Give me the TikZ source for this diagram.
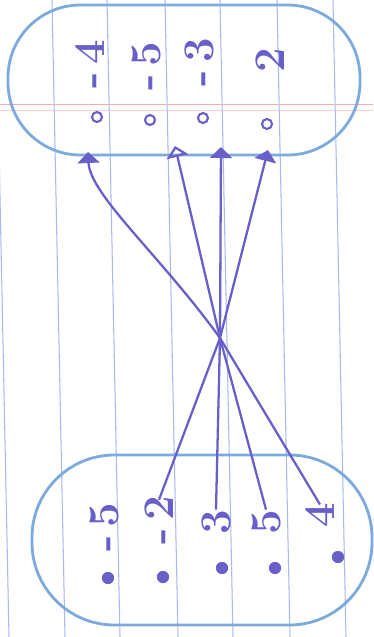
\documentclass[tikz,border=0pt]{standalone}
\usepackage{amsmath}
\usepackage{tikz}
\usetikzlibrary{arrows.meta, positioning, calc}
\definecolor{penblue}{RGB}{105,95,200}
\definecolor{ovalblue}{RGB}{125,170,220}
\definecolor{ruleblue}{RGB}{170,185,240}
\definecolor{marginred}{RGB}{235,175,180}
\tikzset{
  setoval/.style={draw=ovalblue,line width=1.6pt,rounded corners=1.45cm},
  hollowpt/.style={circle,draw=penblue,line width=1.2pt,fill=white,inner sep=0pt,minimum size=0.2cm},
  solidpt/.style={circle,draw=penblue,fill=penblue,inner sep=0pt,minimum size=0.23cm},
  numlbl/.style={rotate=90,text=penblue,font=\Huge\bfseries,inner sep=1pt},
  maparr/.style={-{Triangle[width=0.44cm,length=0.22cm]},line width=1.3pt,color=penblue},
  openarr/.style={-{Triangle[open,width=0.44cm,length=0.22cm]},line width=1.3pt,color=penblue},
  ruling/.style={draw=ruleblue,line width=0.6pt}
}

\begin{document}
\begin{tikzpicture}[x=0.02cm,y=-0.02cm]
  \useasboundingbox (0,0) rectangle (373,637);

  %% paper rulings
  \foreach \xa in {-4,52,107,165,220,277,333}
    \draw[ruling] (\xa,0) -- ($(\xa,637)+(13,0)$);
  \draw[marginred,line width=0.5pt] (0,104) -- (373,104);
  \draw[marginred!60,line width=0.4pt] (0,110) -- (373,110);

  %% codomain (top)
  \draw[setoval] (8,5) rectangle (360,155);
  \node[hollowpt] (tm4) at (97,117) {};
  \node[hollowpt] (tm5) at (150,120) {};
  \node[hollowpt] (tm3) at (203,118) {};
  \node[hollowpt] (tp2) at (267,124) {};
  \node[numlbl] (ltm4) at (90,64) {-\,4};
  \node[numlbl] (ltm5) at (146,66) {-\,5};
  \node[numlbl] (ltm3) at (199,62) {-\,3};
  \node[numlbl] (ltp2) at (270,60) {2};

  %% domain (bottom)
  \draw[setoval,rounded corners=1.65cm] (32,455) rectangle (372,625);
  \node[solidpt] (bm5) at (108,578) {};
  \node[solidpt] (bm2) at (163,577) {};
  \node[solidpt] (bp3) at (222,568) {};
  \node[solidpt] (bp5) at (275,568) {};
  \node[solidpt] (bp4) at (338,557) {};
  \node[numlbl] (lbm5) at (104,527) {-\,5};
  \node[numlbl] (lbm2) at (159,520) {-\,2};
  \node[numlbl] (lbp3) at (216,522) {3};
  \node[numlbl] (lbp5) at (266,522) {5};
  \node[numlbl] (lbp4) at (320,515) {4};

  %% arrow ends and crossing
  \coordinate (em4) at (88,152);
  \coordinate (em5) at (175,146);
  \coordinate (em3) at (221,147);
  \coordinate (ep2) at (268,150);
  \coordinate (cross) at (220,338);

  \draw[maparr] ([yshift=-0.08cm]lbp4.east) -- (cross)
      .. controls (160,255) and (90,195) .. (em4);
  \draw[openarr] ([yshift=-0.04cm]lbp5.east) -- (cross) -- (em5);
  \draw[maparr] ([yshift=-0.04cm]lbp3.east) -- (cross) -- (em3);
  \draw[maparr] ([yshift=-0.12cm]lbm2.east) -- (cross) -- (ep2);
\end{tikzpicture}
\end{document}
